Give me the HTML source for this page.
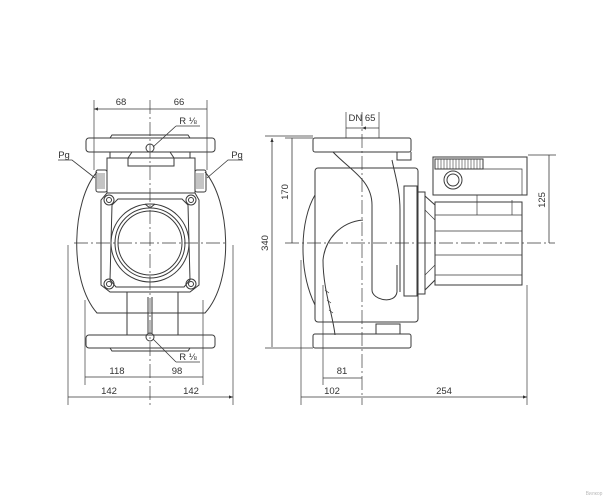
<!DOCTYPE html>
<html><head><meta charset="utf-8"><style>
html,body{margin:0;padding:0;background:#fff;}
svg{display:block;font-family:"Liberation Sans","DejaVu Sans",sans-serif;}
</style></head><body>
<svg width="612" height="500" viewBox="0 0 612 500" xmlns="http://www.w3.org/2000/svg">
<defs>
<marker id="a" viewBox="0 0 10 10" refX="10" refY="5" markerWidth="7" markerHeight="5" orient="auto-start-reverse"><path d="M0,1 L10,5 L0,9 z" fill="#333"/></marker>
</defs>
<g fill="none" stroke="#3a3a3a" stroke-width="1">
<!-- ===== LEFT VIEW ===== -->
<!-- outer ellipse outline -->
<path d="M97,172 C72,200 68,280 97,313 L205,313 C235,280 230,200 205,172"/>
<!-- top flange -->
<rect x="86" y="138" width="129" height="14" rx="3"/>
<path d="M110,138 L112,135 L188,135 L190,138"/>
<path d="M110,152 L110,158 M190,152 L190,158"/>
<path d="M128,158 L132,152 M170,152 L174,158"/>
<!-- upper housing -->
<rect x="107" y="158" width="88" height="35"/>
<path d="M128,158 L128,166 L174,166 L174,158"/>
<!-- Pg glands -->
<rect x="96" y="170" width="11" height="22" rx="2"/>
<rect x="195" y="170" width="11" height="22" rx="2"/>
<path d="M98,173v16M100,173v16M102,173v16M104,173v16M197,173v16M199,173v16M201,173v16M203,173v16" stroke-width="0.6"/>
<!-- volute body -->
<path d="M107,193 L195,193 L199,200 L199,285 L190,292 L110,292 L101,285 L101,200 Z"/>
<path d="M112,205 L118,199 L182,199 L188,205 L190,280 L184,287 L116,287 L110,280 Z"/>
<circle cx="150" cy="243" r="39"/>
<circle cx="150" cy="243" r="35"/>
<circle cx="150" cy="243" r="32"/>
<path d="M145,204 l5,4 l5,-4"/>
<circle cx="109" cy="200" r="5"/><circle cx="109" cy="200" r="2.5"/>
<circle cx="191" cy="200" r="5"/><circle cx="191" cy="200" r="2.5"/>
<circle cx="109" cy="284" r="5"/><circle cx="109" cy="284" r="2.5"/>
<circle cx="191" cy="284" r="5"/><circle cx="191" cy="284" r="2.5"/>
<!-- neck -->
<path d="M127,292 L127,335 M178,292 L178,335"/>
<path d="M148,297 L148,333 M152,297 L152,333"/>
<!-- bottom flange -->
<rect x="86" y="335" width="129" height="13" rx="3"/>
<path d="M110,348 L112,351 L188,351 L190,348"/>
<circle cx="150" cy="337" r="4"/>
<circle cx="150" cy="148" r="4"/>
<!-- centerlines -->
<path d="M150,100 L150,405 M74,243 L228,243" stroke-dasharray="14,3,2,3" stroke-width="0.7"/>
<!-- extension lines -->
<path d="M94,100 L94,170 M207,100 L207,170 M85,300 L85,385 M203,300 L203,385 M68,245 L68,405 M233,245 L233,405" stroke-width="0.7"/>
<!-- dims -->
<path d="M94,109 L150,109 M150,109 L207,109 M85,377 L150,377 M150,377 L203,377 M68,397 L150,397 M150,397 L233,397" stroke-width="0.8" marker-start="url(#a)" marker-end="url(#a)"/>
<!-- leaders -->
<path d="M176,126 L200,126 M176,126 L153,147" stroke-width="0.8"/>
<path d="M176,362 L200,362 M176,362 L153,339" stroke-width="0.8"/>
<path d="M58,160 L72,160 L95,178" stroke-width="0.8"/>
<path d="M243,160 L228,160 L207,178" stroke-width="0.8"/>

<!-- ===== RIGHT VIEW ===== -->
<rect x="313" y="138" width="98" height="14" rx="2"/>
<path d="M397,152 L397,160 L411,160 L411,152"/>
<rect x="313" y="334" width="98" height="14" rx="2"/>
<path d="M376,334 L376,324 L400,324 L400,334"/>
<rect x="315" y="168" width="103" height="154" rx="3"/>
<path d="M315,195 C300,220 298,270 315,305"/>
<path d="M333,152 C350,170 372,180 372,205 L372,290 C372,300 395,305 397,292 L397,265 M392,160 C395,175 400,190 400,210 L400,292"/>
<path d="M363,220 C340,222 325,240 323,260 C323,290 333,315 335,335"/>
<path d="M325,290 l4,3 M327,300 l4,3 M329,310 l4,3" stroke-width="0.7"/>
<!-- motor flange -->
<rect x="404" y="186" width="13" height="110"/>
<rect x="417" y="192" width="8" height="102"/>
<path d="M425,196 L435,205 L435,280 L425,290"/>
<path d="M425,210 L435,220 M425,275 L435,265" stroke-width="0.7"/>
<!-- motor -->
<rect x="435" y="202" width="87" height="83"/>
<path d="M435,215 L522,215 M435,231 L522,231 M435,255 L522,255 M435,275 L522,275" stroke-width="0.8"/>
<!-- terminal box -->
<rect x="433" y="157" width="94" height="38"/>
<rect x="435" y="159" width="48" height="10"/>
<path d="M438,159v10M441,159v10M444,159v10M447,159v10M450,159v10M453,159v10M456,159v10M459,159v10M462,159v10M465,159v10M468,159v10M471,159v10M474,159v10M477,159v10M480,159v10" stroke-width="0.6"/>
<path d="M483,169 L522,169 L522,195 M512,200 L512,215 M477,195 L477,215" stroke-width="0.7"/>
<circle cx="453" cy="180" r="9"/><circle cx="453" cy="180" r="6"/>
<!-- centerlines -->
<path d="M362,112 L362,405 M285,243 L555,243" stroke-dasharray="14,3,2,3" stroke-width="0.7"/>
<!-- extension lines -->
<path d="M265,136 L313,136 M265,348 L313,348 M285,138 L313,138 M528,155 L556,155 M346,112 L346,138 M379,112 L379,138 M301,260 L301,405 M323,285 L323,385 M527,285 L527,405" stroke-width="0.7"/>
<!-- dims -->
<path d="M346,128 L362,128 M379,128 L362,128" stroke-width="0.8" marker-end="url(#a)"/>
<path d="M272,138 L272,347 M292,138 L292,243 M549,155 L549,243 M323,378 L362,378 M301,397 L362,397 M362,397 L527,397" stroke-width="0.8" marker-start="url(#a)" marker-end="url(#a)"/>
</g>
<g fill="#333" font-size="9.5" text-anchor="middle">
<text x="121" y="105">68</text>
<text x="179" y="105">66</text>
<text x="188" y="124">R ⅛</text>
<text x="188" y="360">R ⅛</text>
<text x="64" y="158">Pg</text>
<text x="237" y="158">Pg</text>
<text x="117" y="374">118</text>
<text x="177" y="374">98</text>
<text x="109" y="394">142</text>
<text x="191" y="394">142</text>
<text x="362" y="121">DN 65</text>
<text x="342" y="374">81</text>
<text x="332" y="394">102</text>
<text x="444" y="394">254</text>
<text transform="translate(268,243) rotate(-90)">340</text>
<text transform="translate(288,192) rotate(-90)">170</text>
<text transform="translate(545,200) rotate(-90)">125</text>
<text x="594" y="495" font-size="5" fill="#bbb">Вилкор</text>
</g>
</svg>
</body></html>
